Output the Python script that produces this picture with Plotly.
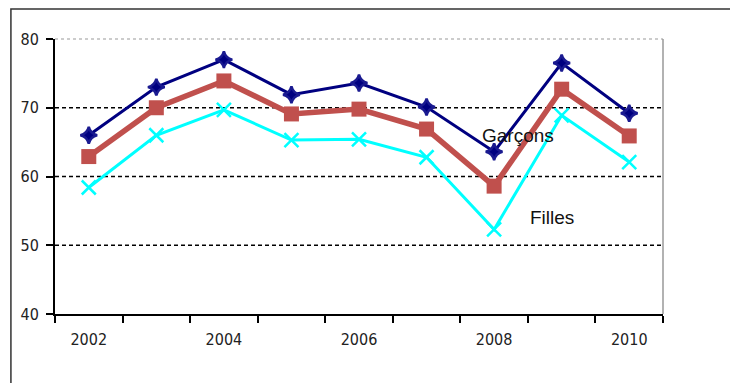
import plotly.graph_objects as go

years = [2002, 2003, 2004, 2005, 2006, 2007, 2008, 2009, 2010]
garcons = [66.0, 73.0, 77.0, 71.9, 73.6, 70.1, 63.6, 76.5, 69.2]
ensemble = [62.9, 70.0, 73.9, 69.1, 69.8, 66.9, 58.6, 72.7, 65.9]
filles = [58.4, 66.0, 69.7, 65.3, 65.4, 62.8, 52.3, 68.9, 62.1]
year_labels = [2002, 2004, 2006, 2008, 2010]
y_ticks = [40, 50, 60, 70, 80]
grid_values = [50, 60, 70]

tick_font = dict(family="DejaVu Sans Condensed, Liberation Sans, sans-serif", size=16, color="#222")

fig = go.Figure()
fig.add_trace(go.Scatter(x=years, y=filles, mode="lines+markers", name="Filles",
                         line=dict(color="#00FFFF", width=3),
                         marker=dict(symbol="x-thin", size=14, line=dict(color="#00FFFF", width=2.5))))
fig.add_trace(go.Scatter(x=years, y=ensemble, mode="lines+markers", name="Ensemble",
                         line=dict(color="#C0504D", width=5.5),
                         marker=dict(symbol="square", size=15, color="#C0504D")))
fig.add_trace(go.Scatter(x=years, y=garcons, mode="lines+markers", name="Garçons",
                         line=dict(color="#000080", width=3),
                         marker=dict(symbol="star-diamond", size=12, color="#000080",
                                     line=dict(color="#1a1a90", width=2.5))))

shapes = []
for g in grid_values:
    shapes.append(dict(type="line", xref="paper", yref="y", x0=0, x1=1, y0=g, y1=g,
                       line=dict(color="black", width=1.5, dash="4px,3px"), layer="below"))
shapes.append(dict(type="line", xref="paper", yref="paper", x0=0, x1=1, y0=1, y1=1,
                   line=dict(color="#999", width=1.2, dash="dot")))
shapes.append(dict(type="line", xref="paper", yref="paper", x0=1, x1=1, y0=0, y1=1,
                   line=dict(color="#999", width=1.5)))
shapes.append(dict(type="rect", xref="paper", yref="paper", x0=-0.0725, x1=1.2, y0=-0.4, y1=1.109,
                   line=dict(color="#333", width=1.5), fillcolor="rgba(0,0,0,0)"))

fig.update_layout(
    width=730, height=375,
    margin=dict(l=45, r=75, t=31, b=69),
    paper_bgcolor="white", plot_bgcolor="white",
    showlegend=False,
    shapes=shapes,
    annotations=[
        dict(x=2008.35, y=66.0, text="Garçons", showarrow=False, xref="x", yref="y",
             font=dict(family="Liberation Sans, Arial, sans-serif", size=19, color="#111")),
        dict(x=2008.85, y=54.1, text="Filles", showarrow=False, xref="x", yref="y",
             font=dict(family="Liberation Sans, Arial, sans-serif", size=19, color="#111")),
    ],
)
fig.update_xaxes(range=[min(years) - 0.5, max(years) + 0.5], tickvals=year_labels,
                 ticktext=[str(y) for y in year_labels], ticks="", showgrid=False,
                 showline=True, linecolor="black", linewidth=2, tickfont=tick_font,
                 ticklabelstandoff=10,
                 minor=dict(tickvals=[y - 0.5 for y in years] + [max(years) + 0.5],
                            ticks="outside", ticklen=7, tickcolor="black", tickwidth=2, showgrid=False),
                 zeroline=False)
fig.update_yaxes(range=[40, 80], tickvals=y_ticks, ticks="outside", ticklen=7, tickwidth=2,
                 tickcolor="black", showgrid=False, showline=True, linecolor="black", linewidth=2,
                 tickfont=tick_font, ticklabelstandoff=4, zeroline=False)

fig.write_html("out.html")
